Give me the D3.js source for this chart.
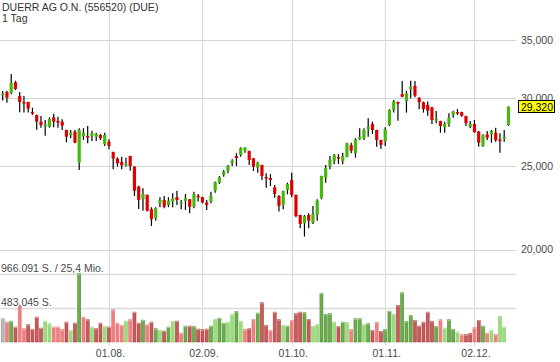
<!DOCTYPE html>
<html><head><meta charset="utf-8">
<script src="https://cdn.jsdelivr.net/npm/d3@7"></script>
<style>body{margin:0;background:#fff}svg{display:block}text{font-family:"Liberation Sans",Arial,sans-serif}</style>
</head><body><svg id="c" width="560" height="362"></svg>
<script>
const title = "DUERR AG O.N. (556520) (DUE)";
const subtitle = "1 Tag";
const open  = [30.22,30.49,30.43,31.29,30.16,29.68,29.68,28.90,28.67,28.16,27.89,27.78,28.49,28.21,28.16,27.54,27.17,27.42,25.24,27.10,27.10,27.10,27.05,27.17,26.51,26.69,25.97,25.51,25.28,25.11,25.69,24.97,23.67,22.90,23.15,22.28,21.75,22.64,22.84,22.54,22.74,23.01,22.66,22.78,22.88,22.43,23.10,23.01,22.68,22.74,23.41,23.92,24.42,24.70,25.20,25.69,25.76,26.06,26.04,25.53,24.90,25.08,24.29,24.22,23.63,23.08,22.54,23.46,24.09,23.15,21.94,21.46,21.94,21.49,21.94,22.94,24.24,24.97,25.35,25.62,25.35,25.64,26.46,25.88,26.86,26.94,27.59,27.99,27.54,26.81,26.74,27.91,29.05,29.68,30.32,29.76,30.73,30.98,30.03,29.66,29.44,29.26,28.32,28.21,27.74,27.99,28.67,28.90,28.88,28.59,27.78,27.99,27.42,26.39,27.22,27.22,27.34,26.85,26.91,27.91];
const high  = [30.57,30.59,31.99,31.42,30.49,30.16,29.70,29.23,28.69,28.59,28.29,28.49,28.77,28.54,28.34,27.56,27.54,27.54,27.67,27.67,27.84,27.49,27.34,27.25,27.34,26.86,25.99,25.60,25.64,25.57,25.71,24.99,23.73,23.57,23.17,22.40,22.40,23.01,23.08,23.01,23.25,23.41,22.84,23.21,22.90,23.35,23.21,23.04,22.84,23.35,23.99,24.35,24.75,25.08,25.47,25.88,26.30,26.30,26.06,25.55,25.30,25.10,24.53,24.48,23.77,23.15,23.41,23.92,24.57,23.17,21.96,21.94,22.04,22.48,22.88,24.37,25.08,25.69,25.83,25.83,25.92,26.62,26.62,26.94,27.67,27.67,28.42,28.16,27.56,26.83,27.74,29.11,29.84,29.71,31.40,30.59,31.42,31.40,30.06,29.71,29.71,29.31,28.98,28.23,28.16,28.80,29.00,29.13,28.92,28.61,28.21,28.29,27.47,27.22,27.47,27.54,27.71,27.30,27.54,29.33];
const low   = [29.79,29.63,30.30,30.65,28.88,28.85,28.85,28.67,27.56,27.71,27.12,27.71,27.74,27.71,27.54,26.65,26.94,26.58,24.75,26.81,26.58,26.74,26.74,26.81,26.39,26.16,24.79,24.97,24.79,24.98,24.70,23.08,22.30,22.19,22.14,21.31,21.61,22.40,22.34,22.40,22.40,22.54,22.28,22.24,22.04,22.34,22.74,22.64,22.24,22.64,23.29,23.84,24.31,24.53,25.01,25.01,25.64,25.92,25.08,24.68,24.57,24.09,23.60,23.71,22.98,22.14,22.28,23.19,23.01,21.81,21.18,20.71,21.18,21.42,21.61,22.88,23.92,24.79,25.13,25.15,25.13,25.60,25.88,25.57,26.81,26.81,27.05,27.25,26.34,26.18,26.39,27.84,28.85,28.23,30.06,28.85,29.98,30.06,29.11,28.85,28.61,27.99,28.04,27.34,27.34,27.78,28.46,28.67,28.54,27.84,27.67,27.35,26.34,26.34,26.81,26.62,26.69,25.92,26.69,27.84];
const close = [30.35,30.03,31.23,30.73,29.68,29.63,29.16,28.88,28.16,27.91,27.93,28.36,28.16,28.17,27.86,27.05,27.34,26.62,27.54,27.34,27.07,27.34,27.25,26.94,27.17,26.39,25.51,25.20,25.06,25.15,25.01,23.41,22.84,23.21,22.19,21.69,22.34,22.84,22.43,22.80,22.94,22.84,22.69,22.94,22.43,23.21,23.07,22.68,22.54,23.08,23.95,24.27,24.64,25.01,25.37,25.55,26.23,26.27,25.42,24.97,25.24,24.35,24.26,24.09,23.21,22.48,23.40,23.84,23.15,21.88,21.42,21.88,21.61,22.00,22.80,24.35,24.86,25.42,25.76,25.59,25.69,26.58,26.06,26.86,27.05,27.54,27.78,27.54,26.81,26.46,27.59,29.05,29.71,29.64,30.10,30.38,30.92,30.19,29.66,29.13,29.00,28.29,28.36,27.84,27.99,28.46,28.92,28.86,28.61,28.04,27.99,27.37,26.62,27.17,26.98,27.47,26.81,26.81,27.03,29.32];
const volume = [338000,282000,291000,212000,503000,188000,244000,179000,353000,197000,
296000,258000,212000,212000,174000,282000,165000,268000,966091,353000,
315000,212000,188000,268000,221000,212000,456000,268000,235000,296000,
315000,423000,268000,310000,244000,282000,188000,165000,155000,212000,
291000,296000,127000,226000,226000,221000,183000,174000,183000,226000,
320000,338000,268000,282000,390000,432000,291000,174000,188000,320000,
409000,555000,235000,165000,423000,315000,235000,226000,305000,400000,
423000,414000,320000,221000,244000,691000,390000,400000,282000,221000,
282000,273000,174000,329000,329000,244000,258000,165000,282000,150000,
179000,437000,390000,517000,696000,291000,376000,305000,226000,282000,
423000,291000,221000,315000,197000,315000,179000,141000,103000,103000,
118000,202000,305000,226000,127000,165000,108000,362000,212000,null];
// volume tone: n = neutral, G/g = up (dark/light), R/r = down (dark/light)
const volTone = "nrGRrrRRRRggrrrRgRGrRgRRgRrrrgrRRGrRGgRGgRrGRGRRRGgGGggGgrRrGRRrRRgGrRRGRggGGGgRGgrGGgGRrRGGgRGGGRRRRRGrgGGgrRRrRGrgrgg";
const priceTicks = [20, 25, 30, 35];
const tickIdx = [25, 47, 68, 90, 111];
const tickLabels = ["01.08.", "02.09.", "01.10.", "01.11.", "02.12."];
const volTicks = [483045, 966091];
const volTickLabels = ["483,045 S.", "966.091 S. / 25,4 Mio."];

const de = d3.formatLocale({decimal: ",", thousands: ".", grouping: [3], currency: ["", "€"]});
const fmtP = de.format(".3f");

const svg = d3.select("#c");
const n = close.length;
const xs = d3.scaleLinear().domain([0, n - 1]).range([2.7, 508.45]);
const ys = d3.scaleLog().domain([20, 35]).range([249.6, 40.35]);
const yv = d3.scaleLinear().domain([0, d3.max(volume)]).range([342, 273.7]);
const gridRight = 516;
const txtCol = "#4a4a4a";

// vertical grid
svg.append("g").selectAll("line").data(tickIdx).join("line")
  .attr("x1", d => Math.round(xs(d)) + 0.5).attr("x2", d => Math.round(xs(d)) + 0.5)
  .attr("y1", 0).attr("y2", 346).attr("stroke", "#d9d9d9").attr("stroke-width", 1);
// price grid
svg.append("g").selectAll("line").data(priceTicks).join("line")
  .attr("x1", 0).attr("x2", gridRight)
  .attr("y1", d => Math.round(ys(d)) + 0.5).attr("y2", d => Math.round(ys(d)) + 0.5)
  .attr("stroke", "#d4d4d4").attr("stroke-width", 1);
// volume grid
svg.append("g").selectAll("line").data(volTicks).join("line")
  .attr("x1", 0).attr("x2", gridRight)
  .attr("y1", d => Math.round(yv(d)) + 0.5).attr("y2", d => Math.round(yv(d)) + 0.5)
  .attr("stroke", "#dcdcdc").attr("stroke-width", 1.6);

// volume bars
const toneFill = {n: "#b8b8b8", G: "#6cae4c", g: "#9ade7c", R: "#c95a5a", r: "#f08080"};
const toneStroke = {n: "#999999", G: "#4b8a32", g: "#8ccc6e", R: "#a23e3e", r: "#e57272"};
const toneCap = {n: "#dddddd", G: "#a8d890", g: "#c4ecb0", R: "#e8a0a0", r: "#f8b8b8"};
const vIdx = d3.range(n).filter(i => volume[i] != null);
const bw = 3;
svg.append("g").selectAll("rect").data(vIdx).join("rect")
  .attr("x", i => xs(i) - bw / 2).attr("width", bw)
  .attr("y", i => yv(volume[i])).attr("height", i => yv(0) - yv(volume[i]))
  .attr("fill", i => toneFill[volTone[i]]).attr("stroke", i => toneStroke[volTone[i]]).attr("stroke-width", 0.6);
svg.append("g").selectAll("line").data(vIdx).join("line")
  .attr("x1", i => xs(i) - bw / 2).attr("x2", i => xs(i) + bw / 2)
  .attr("y1", i => yv(volume[i]) + 0.5).attr("y2", i => yv(volume[i]) + 0.5)
  .attr("stroke", i => toneCap[volTone[i]]).attr("stroke-width", 1);

// candles
const up = "#44b80c", down = "#e00000";
const cg = svg.append("g");
const idx = d3.range(n);
cg.selectAll("line").data(idx).join("line")
  .attr("x1", i => xs(i)).attr("x2", i => xs(i))
  .attr("y1", i => ys(high[i])).attr("y2", i => ys(low[i]))
  .attr("stroke", "#000").attr("stroke-width", 1.2);
cg.selectAll("rect").data(idx).join("rect")
  .attr("x", i => xs(i) - 1.6).attr("width", 3.2)
  .attr("y", i => Math.min(ys(open[i]), ys(close[i])))
  .attr("height", i => Math.max(1.6, Math.abs(ys(open[i]) - ys(close[i]))))
  .attr("fill", i => close[i] >= open[i] ? up : down);

// price axis labels
const pa = svg.append("g").attr("transform", "translate(553,0)")
  .call(d3.axisLeft(ys).tickValues(priceTicks).tickFormat(fmtP).tickSize(0).tickPadding(0));
pa.select(".domain").remove();
pa.selectAll("text").attr("fill", txtCol).style("font-size", "10.5px").style("font-family", '"Liberation Sans",Arial,sans-serif');

// last price box
const last = close[n - 1];
const ly = ys(last);
svg.append("rect").attr("x", 518.5).attr("y", Math.round(ly) - 6.5).attr("width", 36).attr("height", 12)
  .attr("fill", "#ffff00").attr("stroke", "#000").attr("stroke-width", 1);
svg.append("text").attr("x", 553).attr("y", Math.round(ly) + 4).attr("text-anchor", "end")
  .attr("fill", "#000").style("font-size", "10.5px").text(fmtP(last));

// x axis labels
const xa = svg.append("g").attr("transform", "translate(1,347)")
  .call(d3.axisBottom(xs).tickValues(tickIdx).tickFormat((d, i) => tickLabels[i]).tickSize(0).tickPadding(3));
xa.select(".domain").remove();
xa.selectAll("text").attr("fill", txtCol).style("font-size", "10.5px").style("font-family", '"Liberation Sans",Arial,sans-serif');

// volume labels
svg.append("g").selectAll("text").data(volTicks).join("text")
  .attr("x", 1).attr("y", d => Math.round(yv(d)) - 2.5)
  .attr("fill", txtCol).style("font-size", "10.5px")
  .text((d, i) => volTickLabels[i]);

// title
svg.append("text").attr("x", 2).attr("y", 11).attr("fill", "#333").style("font-size", "10.5px").text(title);
svg.append("text").attr("x", 2).attr("y", 21.5).attr("fill", "#333").style("font-size", "10.5px").text(subtitle);
</script></body></html>
